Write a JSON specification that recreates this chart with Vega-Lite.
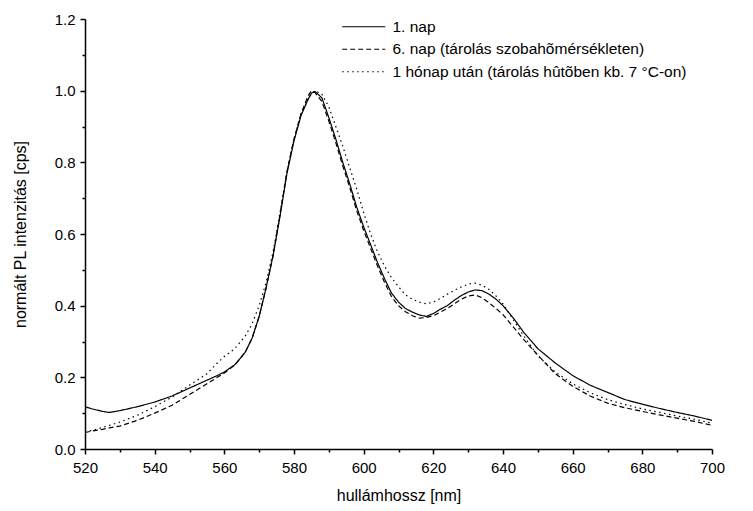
{
  "$schema": "https://vega.github.io/schema/vega-lite/v6.json",
  "autosize": "none",
  "width": 627,
  "height": 430,
  "padding": {"left": 85, "top": 19, "right": 41, "bottom": 62},
  "background": "white",
  "config": {
    "view": {"stroke": null},
    "font": "Liberation Sans",
    "axis": {"grid": false, "domainColor": "black", "tickColor": "black", "labelColor": "black", "titleColor": "black", "titleFontWeight": "normal", "labelFont": "Liberation Sans", "titleFont": "Liberation Sans", "domainWidth": 1.5, "tickWidth": 1.5}
  },
  "data": {"values": [
    {"x":520,"a":0.118,"b":0.046,"c":0.047},
    {"x":522,"a":0.112,"b":0.05,"c":0.052},
    {"x":525,"a":0.105,"b":0.055,"c":0.06},
    {"x":527,"a":0.102,"b":0.059,"c":0.066},
    {"x":530,"a":0.107,"b":0.064,"c":0.075},
    {"x":535,"a":0.118,"b":0.08,"c":0.094},
    {"x":540,"a":0.131,"b":0.1,"c":0.118},
    {"x":545,"a":0.148,"b":0.122,"c":0.145},
    {"x":550,"a":0.17,"b":0.152,"c":0.178},
    {"x":555,"a":0.192,"b":0.182,"c":0.21},
    {"x":558,"a":0.205,"b":0.2,"c":0.24},
    {"x":560,"a":0.215,"b":0.212,"c":0.258},
    {"x":563,"a":0.235,"b":0.234,"c":0.28},
    {"x":566,"a":0.27,"b":0.27,"c":0.315},
    {"x":568,"a":0.31,"b":0.31,"c":0.35},
    {"x":570,"a":0.37,"b":0.37,"c":0.4},
    {"x":572,"a":0.45,"b":0.45,"c":0.465},
    {"x":574,"a":0.54,"b":0.54,"c":0.55},
    {"x":576,"a":0.65,"b":0.655,"c":0.66},
    {"x":578,"a":0.77,"b":0.775,"c":0.775},
    {"x":580,"a":0.86,"b":0.865,"c":0.865},
    {"x":582,"a":0.93,"b":0.935,"c":0.935},
    {"x":584,"a":0.975,"b":0.985,"c":0.975},
    {"x":585,"a":0.993,"b":1.0,"c":0.99},
    {"x":586,"a":0.998,"b":0.995,"c":1.0},
    {"x":588,"a":0.98,"b":0.97,"c":0.99},
    {"x":590,"a":0.925,"b":0.915,"c":0.955},
    {"x":592,"a":0.865,"b":0.855,"c":0.9},
    {"x":594,"a":0.8,"b":0.79,"c":0.845},
    {"x":596,"a":0.74,"b":0.73,"c":0.785},
    {"x":598,"a":0.675,"b":0.665,"c":0.725},
    {"x":600,"a":0.62,"b":0.61,"c":0.66},
    {"x":602,"a":0.57,"b":0.56,"c":0.6},
    {"x":604,"a":0.52,"b":0.51,"c":0.55},
    {"x":606,"a":0.475,"b":0.465,"c":0.51},
    {"x":608,"a":0.435,"b":0.425,"c":0.478},
    {"x":610,"a":0.41,"b":0.4,"c":0.453},
    {"x":612,"a":0.392,"b":0.383,"c":0.43},
    {"x":614,"a":0.382,"b":0.372,"c":0.418},
    {"x":616,"a":0.374,"b":0.365,"c":0.41},
    {"x":618,"a":0.37,"b":0.367,"c":0.405},
    {"x":620,"a":0.378,"b":0.372,"c":0.41},
    {"x":622,"a":0.39,"b":0.382,"c":0.42},
    {"x":624,"a":0.4,"b":0.392,"c":0.432},
    {"x":626,"a":0.415,"b":0.405,"c":0.443},
    {"x":628,"a":0.428,"b":0.418,"c":0.452},
    {"x":630,"a":0.438,"b":0.427,"c":0.46},
    {"x":632,"a":0.444,"b":0.43,"c":0.463},
    {"x":634,"a":0.442,"b":0.422,"c":0.457},
    {"x":636,"a":0.432,"b":0.408,"c":0.445},
    {"x":638,"a":0.418,"b":0.392,"c":0.427},
    {"x":640,"a":0.4,"b":0.375,"c":0.405},
    {"x":643,"a":0.365,"b":0.34,"c":0.36},
    {"x":646,"a":0.325,"b":0.305,"c":0.315},
    {"x":650,"a":0.28,"b":0.262,"c":0.26},
    {"x":655,"a":0.24,"b":0.21,"c":0.215},
    {"x":660,"a":0.205,"b":0.175,"c":0.182},
    {"x":665,"a":0.178,"b":0.148,"c":0.157},
    {"x":670,"a":0.158,"b":0.128,"c":0.138},
    {"x":675,"a":0.138,"b":0.115,"c":0.124},
    {"x":680,"a":0.125,"b":0.105,"c":0.112},
    {"x":685,"a":0.113,"b":0.095,"c":0.102},
    {"x":690,"a":0.102,"b":0.086,"c":0.092},
    {"x":695,"a":0.092,"b":0.077,"c":0.083},
    {"x":700,"a":0.08,"b":0.066,"c":0.072}
  ]},
  "transform": [{"fold": ["a", "b", "c"], "as": ["k", "v"]}],
  "resolve": {"axis": {"x": "independent", "y": "independent"}},
  "layer": [
    {
      "mark": {"type": "line", "color": "black", "strokeWidth": 1.2, "clip": true},
      "encoding": {
        "x": {"field": "x", "type": "quantitative", "scale": {"domain": [520, 700], "nice": false, "zero": false},
          "axis": {"orient": "bottom", "title": "hullámhossz [nm]", "values": [520, 540, 560, 580, 600, 620, 640, 660, 680, 700], "format": "d", "labelFontSize": 15, "titleFontSize": 16, "tickSize": 5, "labelPadding": 6, "titlePadding": 12, "labelFlush": false}},
        "y": {"field": "v", "type": "quantitative", "scale": {"domain": [0, 1.2], "nice": false},
          "axis": {"orient": "left", "title": "normált PL intenzitás [cps]", "values": [0, 0.2, 0.4, 0.6, 0.8, 1.0, 1.2], "format": ".1f", "labelFontSize": 15, "titleFontSize": 16, "tickSize": 5, "labelPadding": 5, "titlePadding": 26, "labelFlush": false}},
        "strokeDash": {"field": "k", "type": "nominal",
          "scale": {"domain": ["a", "b", "c"], "range": [[1, 0], [5, 3], [1.5, 3.5]]},
          "legend": {"title": null, "orient": "none", "legendX": 271, "legendY": 0, "symbolType": "M-4,0H4", "symbolSize": 116, "symbolStrokeColor": "black", "symbolStrokeWidth": 1.2, "labelFontSize": 15.5, "labelColor": "black", "labelOffset": 21, "labelLimit": 0, "rowPadding": 5.5,
            "labelExpr": "datum.label == 'a' ? '1. nap' : datum.label == 'b' ? '6. nap (tárolás szobahõmérsékleten)' : '1 hónap után (tárolás hûtõben kb. 7 °C-on)'"}}
      }
    },
    {
      "mark": {"type": "point", "opacity": 0},
      "encoding": {
        "x": {"field": "x", "type": "quantitative", "scale": {"domain": [520, 700], "nice": false, "zero": false},
          "axis": {"orient": "bottom", "title": null, "labels": false, "domain": false, "values": [530, 550, 570, 590, 610, 630, 650, 670, 690], "tickSize": 3}},
        "y": {"field": "v", "type": "quantitative", "scale": {"domain": [0, 1.2], "nice": false},
          "axis": {"orient": "left", "title": null, "labels": false, "domain": false, "values": [0.1, 0.3, 0.5, 0.7, 0.9, 1.1], "tickSize": 3}}
      }
    }
  ]
}
